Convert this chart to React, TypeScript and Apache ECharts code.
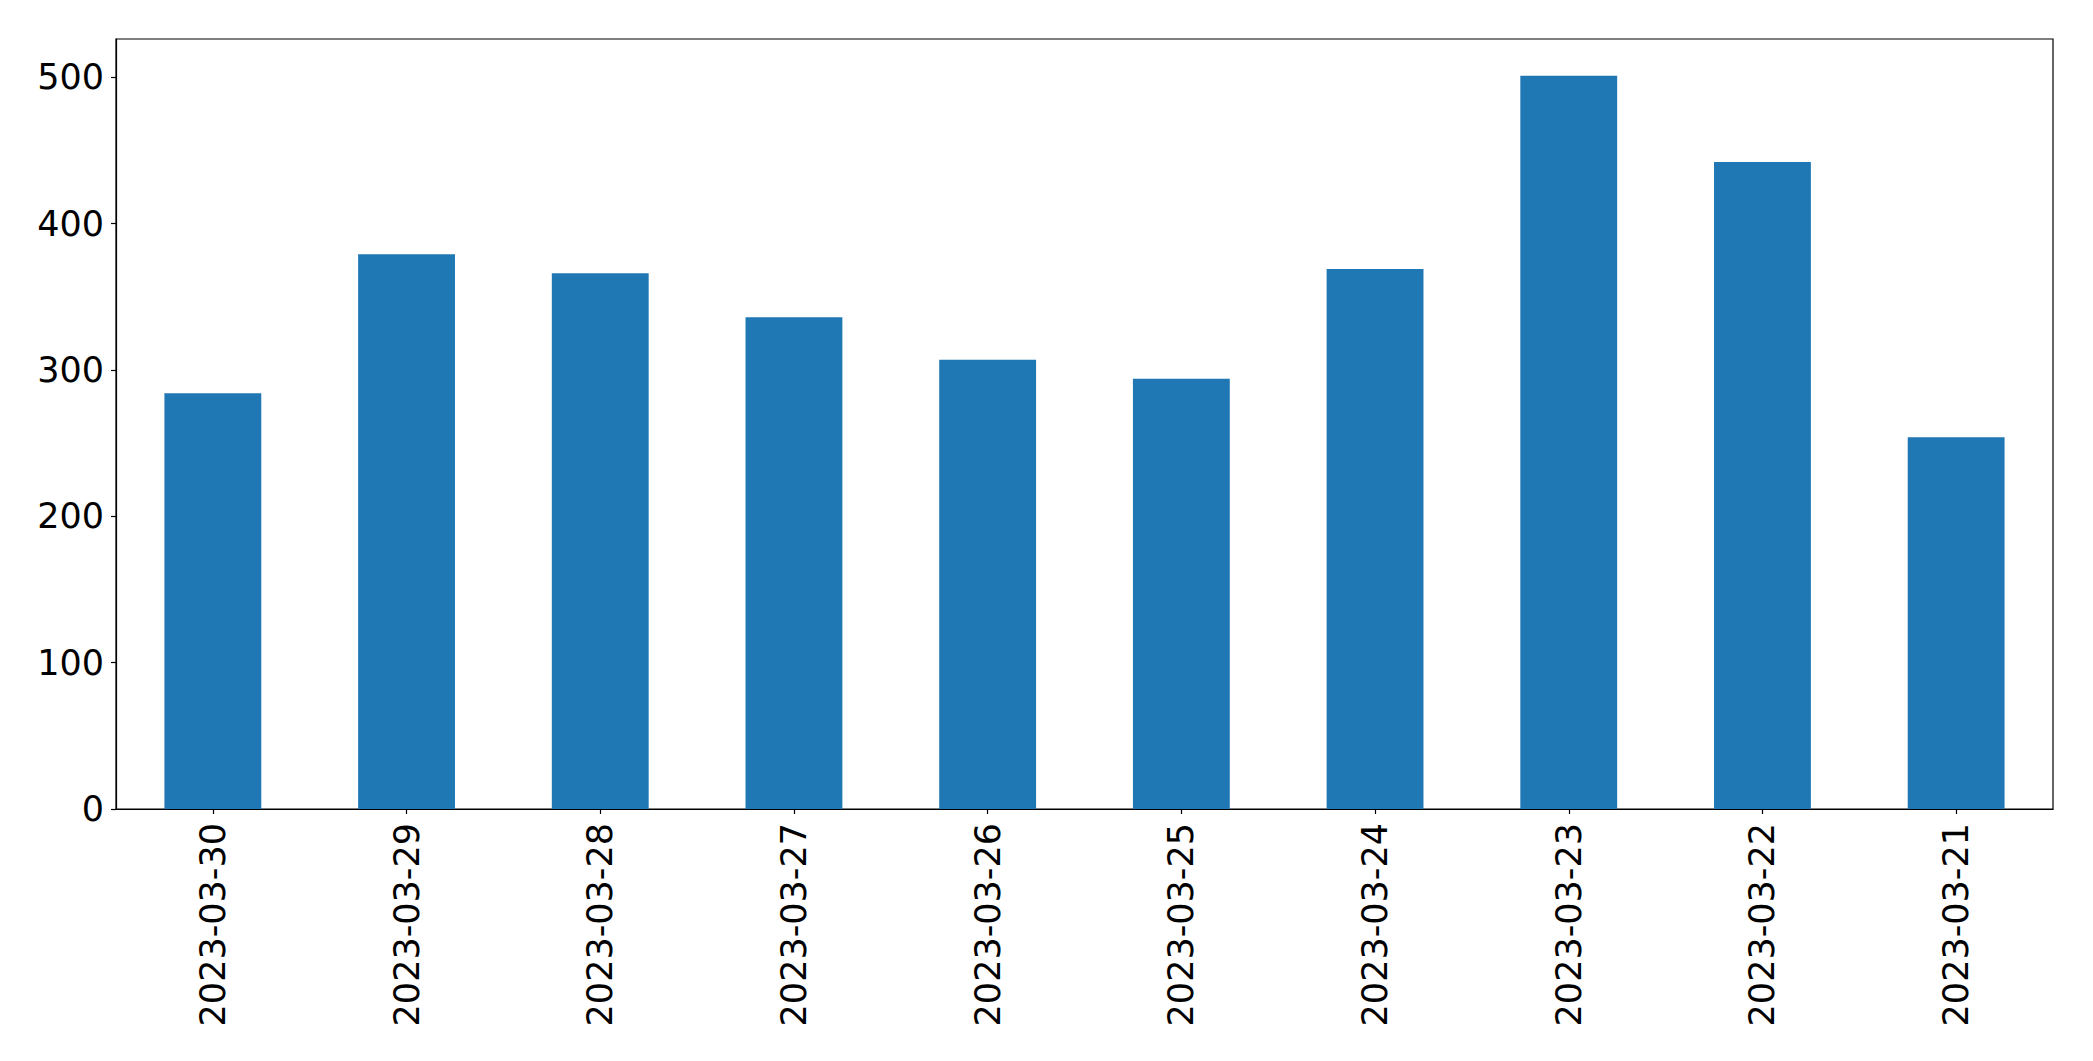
import React, { useEffect, useRef } from "react";
import * as echarts from "echarts";

const categories: string[] = [
  "2023-03-30",
  "2023-03-29",
  "2023-03-28",
  "2023-03-27",
  "2023-03-26",
  "2023-03-25",
  "2023-03-24",
  "2023-03-23",
  "2023-03-22",
  "2023-03-21",
];

const counts: number[] = [284, 379, 366, 336, 307, 294, 369, 501, 442, 254];

const yTicks: number[] = [0, 100, 200, 300, 400, 500];

export default function App() {
  const ref = useRef<HTMLDivElement>(null);

  useEffect(() => {
    if (!ref.current) return;
    const chart = echarts.init(ref.current, undefined, { renderer: "svg" });
    const maxVal = Math.max(...counts) * 1.05;
    const font = "DejaVu Sans";
    chart.setOption({
      animation: false,
      backgroundColor: "#ffffff",
      grid: {
        left: 116,
        right: 40,
        top: 39,
        bottom: 252,
        show: true,
        borderColor: "#000000",
        borderWidth: 1.2,
        backgroundColor: "transparent",
        containLabel: false,
      },
      xAxis: {
        type: "category",
        data: categories,
        boundaryGap: true,
        axisLine: { show: true, lineStyle: { color: "#000000", width: 1.2 } },
        axisTick: {
          show: true,
          alignWithLabel: true,
          length: 5,
          lineStyle: { color: "#000000", width: 1.2 },
        },
        axisLabel: {
          rotate: 90,
          margin: 14,
          color: "#000000",
          fontSize: 35,
          fontFamily: font,
          interval: 0,
        },
        splitLine: { show: false },
      },
      yAxis: {
        type: "value",
        min: 0,
        max: maxVal,
        interval: 100,
        axisLine: { show: true, lineStyle: { color: "#000000", width: 1.2 } },
        axisTick: {
          show: true,
          length: 5,
          lineStyle: { color: "#000000", width: 1.2 },
        },
        axisLabel: {
          margin: 12,
          color: "#000000",
          fontSize: 35,
          fontFamily: font,
          showMaxLabel: false,
          formatter: (v: number) => (yTicks.includes(v) ? String(v) : ""),
        },
        splitLine: { show: false },
      },
      series: [
        {
          type: "bar",
          data: counts,
          barWidth: "50%",
          itemStyle: { color: "#1f77b4" },
        },
      ],
    });
    return () => chart.dispose();
  }, []);

  return (
    <div
      ref={ref}
      style={{
        position: "fixed",
        left: 0,
        top: 0,
        width: 2093,
        height: 1061,
        background: "#ffffff",
      }}
    />
  );
}
